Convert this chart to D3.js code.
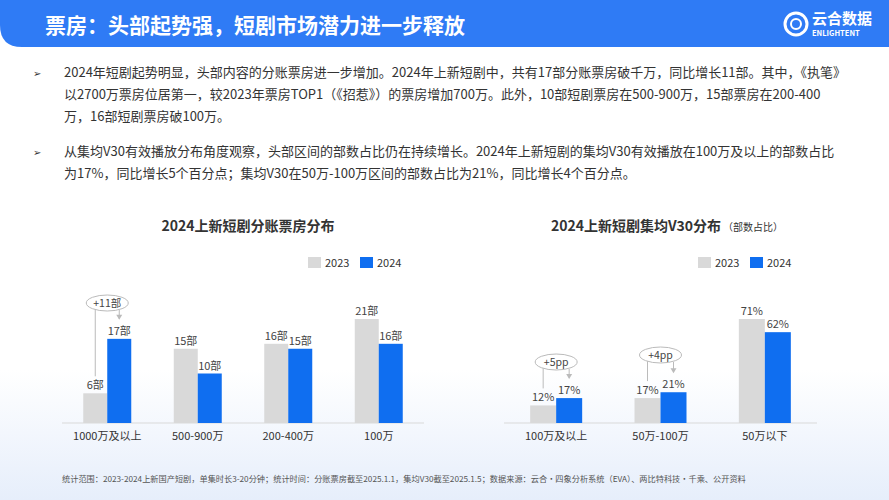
<!DOCTYPE html>
<html><head><meta charset="utf-8">
<script src="https://cdn.jsdelivr.net/npm/d3@7"></script>
<style>body{margin:0;background:#fff;font-family:"Noto Sans CJK SC","Noto Sans",sans-serif;}</style>
</head><body><div id="c"></div>
<script>
const boxCats = ["1000万及以上", "500-900万", "200-400万", "100万"];
const box2023 = [6, 15, 16, 21];
const box2024 = [17, 10, 15, 16];
const v30Cats = ["100万及以上", "50万-100万", "50万以下"];
const v302023 = [12, 17, 71];
const v302024 = [17, 21, 62];
const years = ["2023", "2024"];
const colors = {"2023": "#d9d9d9", "2024": "#0f6ef0"};
const bullets = [
  ["2024年短剧起势明显，头部内容的分账票房进一步增加。2024年上新短剧中，共有17部分账票房破千万，同比增长11部。其中，《执笔》",
   "以2700万票房位居第一，较2023年票房TOP1（《招惹》）的票房增加700万。此外，10部短剧票房在500-900万，15部票房在200-400",
   "万，16部短剧票房破100万。"],
  ["从集均V30有效播放分布角度观察，头部区间的部数占比仍在持续增长。2024年上新短剧的集均V30有效播放在100万及以上的部数占比",
   "为17%，同比增长5个百分点；集均V30在50万-100万区间的部数占比为21%，同比增长4个百分点。"]
];

const W = 889, H = 500;
const svg = d3.select("#c").append("svg").attr("width", W).attr("height", H);
const defs = svg.append("defs");
const g = defs.append("linearGradient").attr("id", "bg").attr("x1", 0).attr("x2", 0).attr("y1", 0).attr("y2", 1);
g.append("stop").attr("offset", "0").attr("stop-color", "#ffffff");
g.append("stop").attr("offset", "1").attr("stop-color", "#e6eefb");
svg.append("rect").attr("width", W).attr("height", H).attr("fill", "#fff");
svg.append("rect").attr("y", 370).attr("width", W).attr("height", 130).attr("fill", "url(#bg)");

// header
svg.append("path").attr("d", `M0,0H${W}V47H22Q0,47 0,25Z`).attr("fill", "#2f7bf5");
svg.append("text").attr("x", 45).attr("y", 33).attr("fill", "#fff").attr("font-size", 21).attr("font-weight", 700).text("票房：头部起势强，短剧市场潜力进一步释放");
svg.append("circle").attr("cx", 796).attr("cy", 24).attr("r", 11).attr("fill", "none").attr("stroke", "#fff").attr("stroke-width", 3);
svg.append("circle").attr("cx", 796).attr("cy", 24).attr("r", 5).attr("fill", "none").attr("stroke", "#fff").attr("stroke-width", 2);
svg.append("text").attr("x", 812).attr("y", 24).attr("fill", "#fff").attr("font-size", 15).attr("font-weight", 700).text("云合数据");
svg.append("text").attr("x", 812).attr("y", 36).attr("fill", "#fff").attr("font-size", 7.5).attr("font-weight", 700).text("ENLIGHTENT");

// body text
let ly = [[77, 99, 121], [156, 178]];
bullets.forEach((b, i) => {
  svg.append("text").attr("x", 33).attr("y", ly[i][0]).attr("font-size", 10).attr("fill", "#333").text("➢");
  b.forEach((t, j) => svg.append("text").attr("x", 64).attr("y", ly[i][j]).attr("font-size", 13).attr("fill", "#333").text(t));
});

function chart(o) {
  const x = d3.scaleBand().domain(o.cats).range([o.x0, o.x1]);
  const y = d3.scaleLinear().domain([0, o.max]).range([423, 423 - o.max * o.k]);
  const gr = svg.append("g");
  gr.append("line").attr("x1", o.x0).attr("x2", o.x1).attr("y1", 423).attr("y2", 423).attr("stroke", "#d9d9d9");
  o.cats.forEach((c, i) => {
    const cx = x(c) + x.bandwidth() / 2;
    [o.a, o.b].forEach((s, k) => {
      const bx = cx - o.bw + k * o.bw;
      gr.append("rect").attr("x", bx).attr("y", y(s[i])).attr("width", o.bw).attr("height", 423 - y(s[i])).attr("fill", colors[years[k]]);
      gr.append("text").attr("x", bx + o.bw / 2).attr("y", y(s[i]) - 4).attr("text-anchor", "middle").attr("font-size", 11).attr("fill", "#444").text(s[i] + o.unit);
    });
    gr.append("text").attr("x", cx).attr("y", 440).attr("text-anchor", "middle").attr("font-size", 11).attr("fill", "#333").text(c);
  });
  gr.append("text").attr("x", o.tx).attr("y", 231).attr("text-anchor", "middle").attr("font-size", 14).attr("font-weight", 700).attr("fill", "#333").text(o.title)
    .append("tspan").attr("font-size", 10).attr("font-weight", 400).attr("dx", 2).text(o.sub || "");
  years.forEach((yr, k) => {
    const lx = o.lx + k * 52;
    gr.append("rect").attr("x", lx).attr("y", 257).attr("width", 13).attr("height", 11).attr("fill", colors[yr]);
    gr.append("text").attr("x", lx + 17).attr("y", 267).attr("font-size", 11).attr("fill", "#333").text(yr);
  });
  o.notes.forEach(([i, label, ey]) => {
    const c = o.cats[i], cx = x(c) + x.bandwidth() / 2;
    const ax = cx - o.bw / 2, bx = cx + o.bw / 2;
    gr.append("path").attr("d", `M${ax},${y(o.a[i]) - 17}V${ey}`).attr("stroke", "#bbb").attr("fill", "none");
    gr.append("path").attr("d", `M${bx},${ey + 7}V${y(o.b[i]) - 20}`).attr("stroke", "#bbb").attr("fill", "none");
    gr.append("path").attr("d", `M${bx - 3},${y(o.b[i]) - 24}L${bx + 3},${y(o.b[i]) - 24}L${bx},${y(o.b[i]) - 19}Z`).attr("fill", "#bbb");
    gr.append("ellipse").attr("cx", cx).attr("cy", ey).attr("rx", 21).attr("ry", 8).attr("fill", "#fff").attr("stroke", "#bbb");
    gr.append("text").attr("x", cx).attr("y", ey + 4).attr("text-anchor", "middle").attr("font-size", 10.5).attr("fill", "#444").text(label);
  });
}
chart({cats: boxCats, a: box2023, b: box2024, x0: 62, x1: 424, max: 21, k: 4.95, bw: 24, unit: "部",
  title: "2024上新短剧分账票房分布", tx: 248, lx: 308, notes: [[0, "+11部", 303]]});
chart({cats: v30Cats, a: v302023, b: v302024, x0: 504, x1: 817, max: 71, k: 1.465, bw: 26, unit: "%",
  title: "2024上新短剧集均V30分布", sub: "（部数占比）", tx: 667, lx: 698, notes: [[0, "+5pp", 362], [1, "+4pp", 355]]});

svg.append("text").attr("x", 62).attr("y", 482).attr("font-size", 8.2).attr("fill", "#555")
  .text("统计范围：2023-2024上新国产短剧，单集时长3-20分钟；统计时间：分账票房截至2025.1.1，集均V30截至2025.1.5；数据来源：云合·四象分析系统（EVA）、两比特科技·千乘、公开资料");
</script></body></html>
